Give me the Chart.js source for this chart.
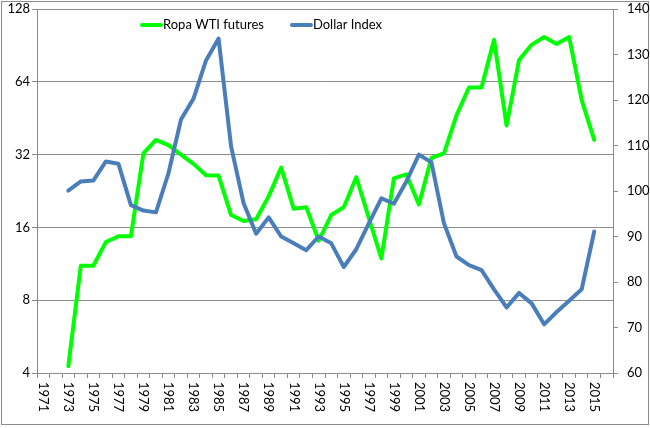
<!DOCTYPE html>
<html>
<head>
<meta charset="utf-8">
<script src="https://cdn.jsdelivr.net/npm/chart.js@4"></script>
<style>
  html, body { margin: 0; padding: 0; background: #fff; }
  #wrap { width: 650px; height: 428px; position: relative; }
</style>
</head>
<body>
<div id="wrap"><canvas id="chart"></canvas></div>
<script>
// Data
const years = [];
for (let y = 1971; y <= 2016; y++) years.push(String(y));
const tickYears = ['1971','1973','1975','1977','1979','1981','1983','1985','1987','1989','1991','1993',
  '1995','1997','1999','2001','2003','2005','2007','2009','2011','2013','2015'];

// 1973 - 2015
const wtiFutures = [4.27, 11.1, 11.1, 13.9, 14.7, 14.7, 32.4, 36.8, 35.0, 32.0, 29.3, 26.3, 26.2,
  18.0, 17.0, 17.3, 21.5, 28.3, 19.1, 19.4, 14.1, 18.0, 19.4, 25.8, 17.5, 11.9, 25.5, 26.5, 19.9,
  31.0, 32.4, 46.5, 60.6, 60.6, 95.4, 42.2, 78.8, 91, 98, 91.8, 98, 53.8, 36.8];
const dollarIndex = [100.1, 102.1, 102.3, 106.5, 106.0, 96.9, 95.7, 95.3, 103.9, 115.7, 120.3, 128.7, 133.5,
  109.8, 97.3, 90.6, 94.2, 90.0, 88.5, 87.0, 90.0, 88.5, 83.3, 87.2, 92.9, 98.4, 97.2, 102.1, 108.0,
  106.3, 92.9, 85.6, 83.7, 82.6, 78.4, 74.4, 77.6, 75.3, 70.7, 73.4, 75.9, 78.4, 91.1];

const leftTicks = [4, 8, 16, 32, 64, 128];
const rightMin = 60, rightMax = 140, rightStep = 10;

const FONT = 'Lato, "Open Sans", sans-serif';
const GRID = '#8c8c8c';

// chart border + x labels + legend
const decor = {
  id: 'decor',
  beforeDraw(chart) {
    const ctx = chart.ctx;
    ctx.save();
    ctx.fillStyle = '#fff';
    ctx.fillRect(0, 0, chart.width, chart.height);
    ctx.strokeStyle = GRID;
    ctx.lineWidth = 1;
    ctx.strokeRect(1.5, 1.5, chart.width - 3, chart.height - 5);
    ctx.restore();
  },
  afterDraw(chart) {
    const ctx = chart.ctx;
    const xs = chart.scales.x;
    ctx.save();
    ctx.fillStyle = '#000';
    ctx.font = '13px ' + FONT;
    ctx.textAlign = 'left';
    ctx.textBaseline = 'middle';
    years.forEach((yr, i) => {
      if (!tickYears.includes(yr)) return;
      const x = xs.getPixelForValue(i);
      ctx.save();
      ctx.translate(x, xs.top + 9);
      ctx.rotate(Math.PI / 2);
      ctx.fillText(yr, 0, 0);
      ctx.restore();
    });

    // legend
    let lx = 142;
    const ly = 25;
    chart.data.datasets.forEach(ds => {
      ctx.strokeStyle = ds.borderColor;
      ctx.lineWidth = 4;
      ctx.lineCap = 'round';
      ctx.beginPath();
      ctx.moveTo(lx, ly);
      ctx.lineTo(lx + 19, ly);
      ctx.stroke();
      ctx.fillStyle = '#000';
      ctx.fillText(ds.label, lx + 21, ly);
      lx += 21 + ctx.measureText(ds.label).width + 28;
    });
    ctx.restore();
  }
};

const fitY = s => { s.width = 37; s.paddingTop = 0; s.paddingBottom = 0; };

new Chart(document.getElementById('chart'), {
  type: 'line',
  data: {
    labels: years,
    datasets: [
      {
        label: 'Ropa WTI futures',
        data: [null, null, ...wtiFutures, null],
        borderColor: '#00ff00',
        backgroundColor: '#00ff00',
        borderWidth: 4,
        pointRadius: 0,
        tension: 0,
        borderJoinStyle: 'round',
        borderCapStyle: 'round',
        yAxisID: 'y',
        order: 1
      },
      {
        label: 'Dollar Index',
        data: [null, null, ...dollarIndex, null],
        borderColor: '#4a7ebb',
        backgroundColor: '#4a7ebb',
        borderWidth: 4,
        pointRadius: 0,
        tension: 0,
        borderJoinStyle: 'round',
        borderCapStyle: 'round',
        yAxisID: 'y2',
        order: 0
      }
    ]
  },
  options: {
    responsive: true,
    maintainAspectRatio: false,
    animation: false,
    devicePixelRatio: 1,
    layout: { padding: { top: 9, left: 0, right: 0, bottom: 0 } },
    plugins: {
      legend: { display: false },
      tooltip: { enabled: false }
    },
    scales: {
      x: {
        type: 'category',
        offset: true,
        grid: { offset: true, drawOnChartArea: false, drawTicks: true, tickLength: 5, color: GRID },
        border: { color: GRID },
        ticks: { display: false },
        afterFit: s => { s.height = 55; s.paddingLeft = 0; s.paddingRight = 0; }
      },
      y: {
        type: 'logarithmic',
        position: 'left',
        min: 4,
        max: 128,
        afterBuildTicks: s => { s.ticks = leftTicks.map(v => ({ value: v })); },
        grid: { color: GRID, tickLength: 5 },
        border: { color: GRID },
        ticks: {
          color: '#000',
          font: { family: FONT, size: 13 },
          padding: 2,
          callback: v => String(v)
        },
        afterFit: fitY
      },
      y2: {
        type: 'linear',
        position: 'right',
        min: rightMin,
        max: rightMax,
        grid: { drawOnChartArea: false, tickLength: 5, color: GRID },
        border: { color: GRID },
        ticks: {
          stepSize: rightStep,
          color: '#000',
          font: { family: FONT, size: 13 },
          padding: 9
        },
        afterFit: fitY
      }
    }
  },
  plugins: [decor]
});
</script>
</body>
</html>
